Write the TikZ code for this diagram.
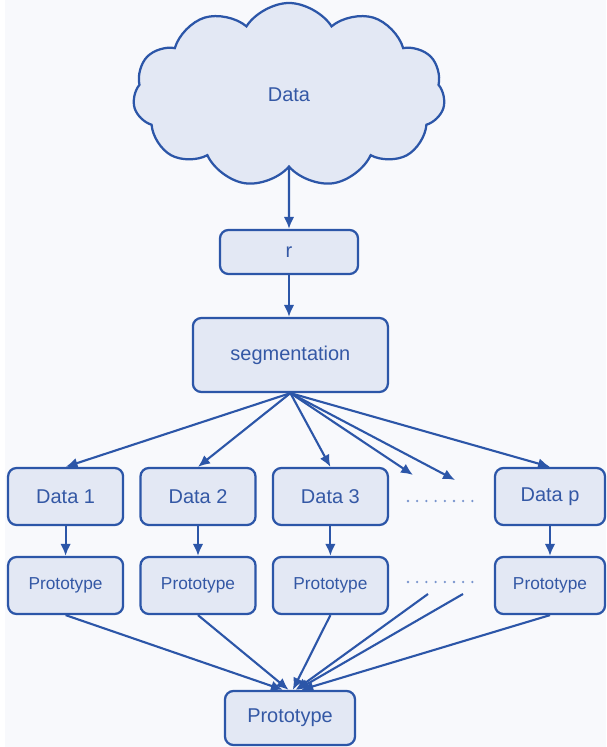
\documentclass[tikz,border=0pt]{standalone}
\usepackage{fontspec}
\setmainfont{Liberation Sans}
\usetikzlibrary{shapes.symbols, arrows.meta}
\definecolor{flowblue}{RGB}{44, 86, 168}
\definecolor{textblue}{RGB}{52, 88, 165}
\definecolor{boxfill}{RGB}{227, 232, 244}
\definecolor{pagebg}{RGB}{248, 249, 252}
\definecolor{dotblue}{RGB}{120, 148, 205}
\tikzset{
    % Process boxes
    flow box/.style={
        rectangle, rounded corners=6pt, draw=flowblue, line width=1.6pt,
        fill=boxfill, text=textblue, align=center,
        minimum width=2.875cm, minimum height=1.425cm,
        font=\fontsize{14.2}{16}\selectfont
    },
    % Smaller text for the per-part prototypes
    proto box/.style={
        flow box, font=\fontsize{12.3}{14}\selectfont
    },
    % Source cloud
    source cloud/.style={
        cloud, cloud puffs=11, cloud puff arc=115, aspect=1.75,
        draw=flowblue, line width=1.6pt, fill=boxfill, text=textblue,
        minimum width=7.8cm, minimum height=4.6cm,
        font=\fontsize{14.2}{16}\selectfont
    },
    % Arrows
    flow arrow/.style={
        -{Latex[length=8.5pt, width=7.5pt]}, line width=1.5pt, draw=flowblue
    }
}

\begin{document}
\begin{tikzpicture}

    % Background
    \fill[white] (0, 0) rectangle (15.15, 18.675);
    \fill[pagebg] (0.12, 0) rectangle (15.15, 18.675);

    % Source and preprocessing
    \node[source cloud] (data) at (7.225, 16.3) {Data};
    \node[flow box, minimum width=3.45cm, minimum height=1.1cm] (r) at (7.225, 12.375) {r};
    \node[flow box, minimum width=4.875cm, minimum height=1.85cm] (seg) at (7.26, 9.8) {segmentation};

    \draw[flow arrow] (data.south) -- (r.north);
    \draw[flow arrow] (r.south) -- (r.south |- seg.north);

    % Data parts
    \node[flow box] (d1) at (1.64, 6.2625) {Data 1};
    \node[flow box] (d2) at (4.95, 6.2625) {Data 2};
    \node[flow box] (d3) at (8.26, 6.2625) {Data 3};
    \node[flow box, minimum width=2.75cm] (dp) at (13.75, 6.2625) {Data p};
    \coordinate (e1) at (10.325, 6.8);
    \coordinate (e2) at (11.375, 6.675);

    \draw[flow arrow] (seg.south) -- (d1.north);
    \draw[flow arrow] (seg.south) -- (d2.north);
    \draw[flow arrow] (seg.south) -- (d3.north);
    \draw[flow arrow] (seg.south) -- (e1);
    \draw[flow arrow] (seg.south) -- (e2);
    \draw[flow arrow] (seg.south) -- (dp.north);

    % Prototype per part
    \node[proto box] (p1) at (1.64, 4.0375) {Prototype};
    \node[proto box] (p2) at (4.95, 4.0375) {Prototype};
    \node[proto box] (p3) at (8.26, 4.0375) {Prototype};
    \node[proto box, minimum width=2.75cm] (pp) at (13.75, 4.0375) {Prototype};
    \coordinate (f1) at (10.7, 3.825);
    \coordinate (f2) at (11.575, 3.825);

    \draw[flow arrow] (d1.south) -- (p1.north);
    \draw[flow arrow] (d2.south) -- (p2.north);
    \draw[flow arrow] (d3.south) -- (p3.north);
    \draw[flow arrow] (dp.south) -- (pp.north);

    % Dots for the omitted parts
    \foreach \i in {0,...,7} {
        \fill[dotblue] (10.2 + 0.23*\i, 6.15) circle (0.9pt);
        \fill[dotblue] (10.2 + 0.23*\i, 4.125) circle (0.9pt);
    }

    % Final prototype
    \node[flow box, minimum width=3.25cm, minimum height=1.35cm] (fin) at (7.25, 0.725) {Prototype};

    \draw[flow arrow] (p1.south) -- ([xshift=-5pt]fin.north);
    \draw[flow arrow] (p2.south) -- ([xshift=-1pt]fin.north);
    \draw[flow arrow] (p3.south) -- ([xshift=2pt]fin.north);
    \draw[flow arrow] (f1) -- ([xshift=4pt]fin.north);
    \draw[flow arrow] (f2) -- ([xshift=5pt]fin.north);
    \draw[flow arrow] (pp.south) -- ([xshift=8pt]fin.north);

\end{tikzpicture}
\end{document}
